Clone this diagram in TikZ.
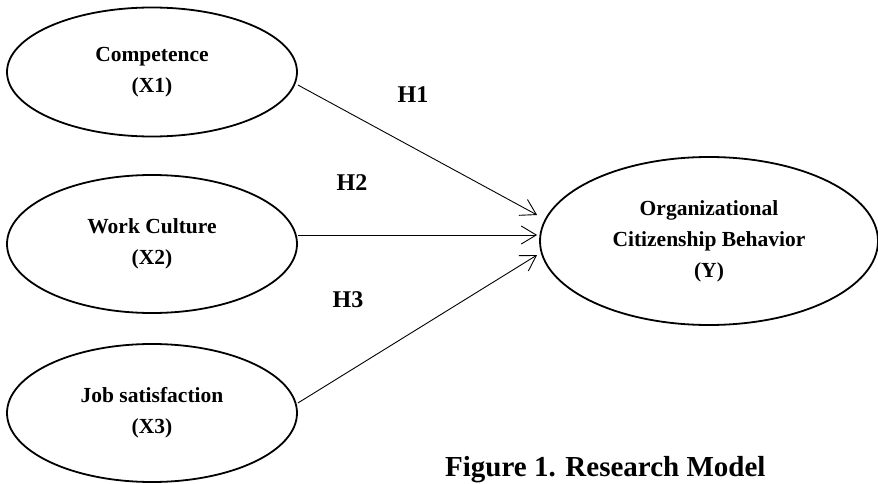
\documentclass[tikz,border=0pt]{standalone}
\usepackage{fontspec}
\setmainfont{Liberation Serif}
\usetikzlibrary{shapes.geometric,arrows.meta}
\begin{document}
\begin{tikzpicture}[x=1pt,y=1pt,
  latent/.style={draw,line width=1.8pt,ellipse,inner sep=0pt,align=center,
    font=\bfseries\fontsize{21.5}{31}\selectfont},
  hyp/.style={font=\bfseries\fontsize{24}{28}\selectfont,inner sep=0pt},
  path/.style={line width=0.9pt,-{Straight Barb[length=15pt,width=18pt,line width=0.9pt]}}]
\useasboundingbox (0,0) rectangle (878,-484);
\node[latent,minimum width=290pt,minimum height=129pt] (x1) at (152,-72) {Competence\\(X1)};
\node[latent,minimum width=290pt,minimum height=138pt] (x2) at (152,-244) {Work Culture\\(X2)};
\node[latent,minimum width=290pt,minimum height=138pt] (x3) at (152,-413) {Job satisfaction\\(X3)};
\node[latent,minimum width=338pt,minimum height=168pt] (y) at (709,-241) {Organizational\\Citizenship Behavior\\(Y)};
\coordinate (t1) at ([xshift=-2pt,yshift=26pt]y.west);
\coordinate (t2) at ([xshift=-2pt,yshift=6pt]y.west);
\coordinate (t3) at ([xshift=-2pt,yshift=-14pt]y.west);
\draw[path] ([yshift=-13pt]x1.east) -- (t1);
\draw[path] ([yshift=9pt]x2.east) -- (t2);
\draw[path] ([yshift=10pt]x3.east) -- (t3);
\node[hyp] (h1) at (413,-95) {H1};
\node[hyp] (h2) at (352,-183) {H2};
\node[hyp] (h3) at (348,-300) {H3};
\node[anchor=base west,inner sep=0pt,font=\bfseries\fontsize{29}{32}\selectfont] (cap) at (445,-476) {Figure 1. Research Model};
\end{tikzpicture}
\end{document}
